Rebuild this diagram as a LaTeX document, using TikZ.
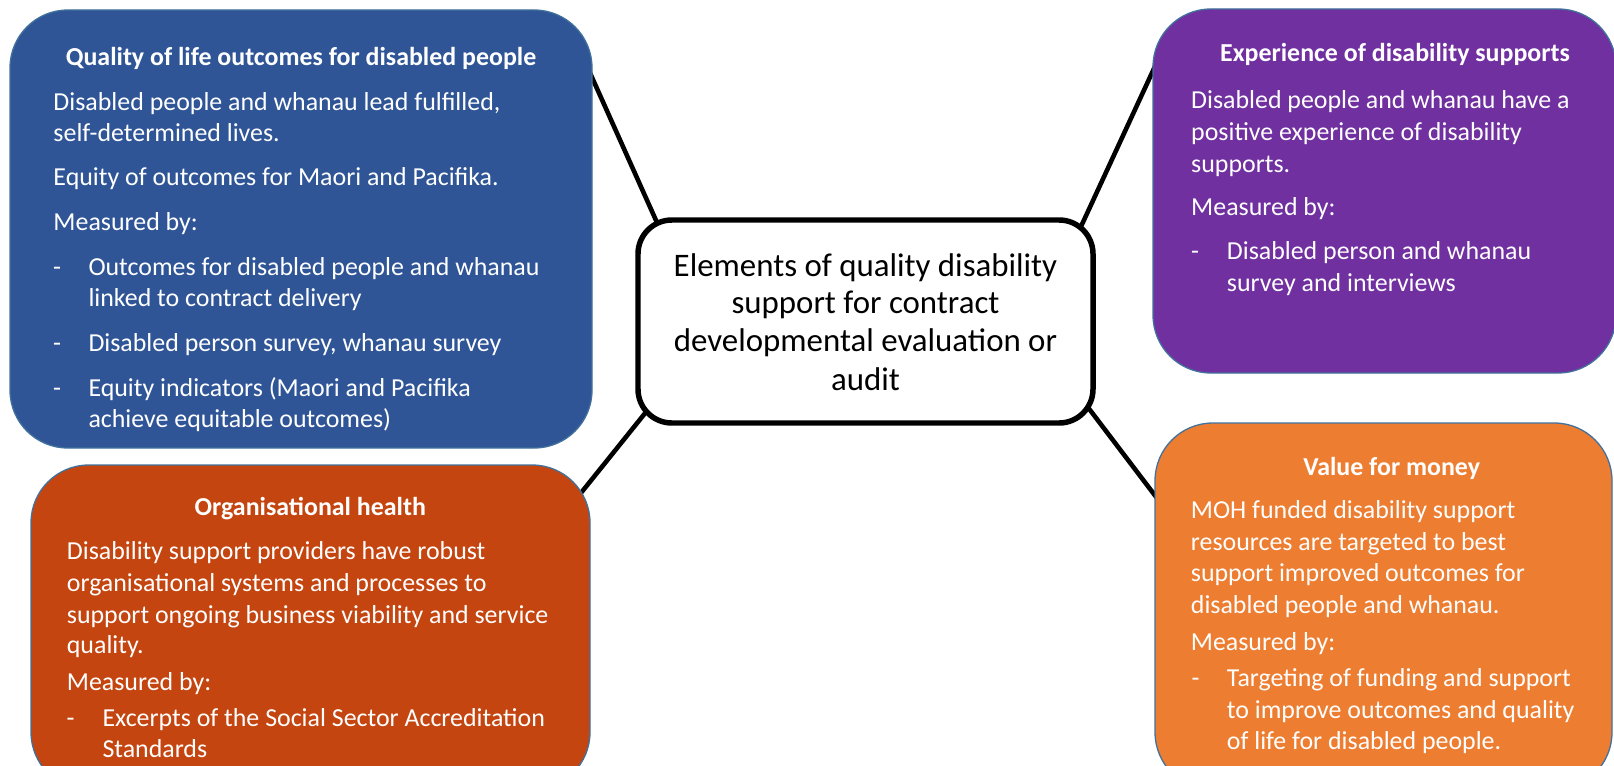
\documentclass[tikz,border=0pt]{standalone}
\usepackage{fontspec}
\setmainfont{Carlito}
\usetikzlibrary{backgrounds,fit}
\definecolor{qolblue}{HTML}{2F5597}
\definecolor{exppurple}{HTML}{7030A0}
\definecolor{orgred}{HTML}{C4450F}
\definecolor{vfmorange}{HTML}{ED7D31}
\definecolor{edgeblue}{HTML}{41719C}
\tikzset{
  card/.style={draw=edgeblue, line width=1.3, rounded corners=58, inner sep=0pt},
  hub/.style={draw=black, fill=white, line width=5.5, rounded corners=34, inner sep=0pt},
  hubtext/.style={text=black, inner sep=0pt, anchor=base, font=\fontsize{33}{38}\selectfont},
  link/.style={draw=black, line width=4.6},
  cardtitle/.style={text=white, inner sep=0pt, anchor=base, font=\fontsize{26}{31}\selectfont\bfseries},
  cardtext/.style={text=white, inner sep=0pt, anchor=base west, font=\fontsize{26}{31}\selectfont},
}
\newcommand\cardline[4]{\node[cardtext] (#1) at (#2,#3) {#4};}
\begin{document}
\begin{tikzpicture}[x=1bp,y=-1bp]
\useasboundingbox (0,0) rectangle (1614,766);
% boxes
\node[card, fill=qolblue, fit={(10,10) (592,448)}] (qol) {};
\node[card, fill=exppurple, fit={(1153,9) (1616,373)}] (exp) {};
\node[card, fill=orgred, fit={(31,465) (590,790)}] (org) {};
\node[card, fill=vfmorange, fit={(1155,423) (1612,790)}] (vfm) {};
\node[hub, fit={(638,220) (1093,423)}] (hub) {};
\node[hubtext] (h1) at (865.5,276) {Elements of quality disability};
\node[hubtext] (h2) at (865.5,313) {support for contract};
\node[hubtext] (h3) at (865.5,351) {developmental evaluation or};
\node[hubtext] (h4) at (865.5,390.5) {audit};
% connector ends
\coordinate (qolend) at (583.5,58.4);
\coordinate (hubnw) at (665.5,241.6);
\coordinate (expend) at (1161.7,51.8);
\coordinate (hubne) at (1073.3,243.2);
\coordinate (orgend) at (570.8,505.6);
\coordinate (hubsw) at (657.5,397.7);
\coordinate (vfmend) at (1165.4,509.2);
\coordinate (hubse) at (1077.9,394.1);
\begin{scope}[on background layer]
  \draw[link] (qolend) -- (hubnw);
  \draw[link] (expend) -- (hubne);
  \draw[link] (orgend) -- (hubsw);
  \draw[link] (vfmend) -- (hubse);
\end{scope}
% Quality of life
\node[cardtitle] (qolt) at (301,66) {Quality of life outcomes for disabled people};
\cardline{q1}{53.3}{110}{Disabled people and whanau lead fulfilled,}
\cardline{q2}{53.3}{141.8}{self-determined lives.}
\cardline{q3}{53.3}{185.5}{Equity of outcomes for Maori and Pacifika.}
\cardline{q4}{53.3}{230}{Measured by:}
\cardline{q5d}{53}{275}{-}
\cardline{q5}{88.3}{275}{Outcomes for disabled people and whanau}
\cardline{q6}{88.3}{306.5}{linked to contract delivery}
\cardline{q7d}{53}{351.5}{-}
\cardline{q7}{88.3}{351.5}{Disabled person survey, whanau survey}
\cardline{q8d}{53}{396.5}{-}
\cardline{q8}{88.3}{396.5}{Equity indicators (Maori and Pacifika}
\cardline{q9}{88.3}{427.5}{achieve equitable outcomes)}
% Experience
\node[cardtitle] (expt) at (1395,61.5) {Experience of disability supports};
\cardline{e1}{1191}{108}{Disabled people and whanau have a}
\cardline{e2}{1191}{140}{positive experience of disability}
\cardline{e3}{1191}{172}{supports.}
\cardline{e4}{1191}{215.5}{Measured by:}
\cardline{e5d}{1191}{259.5}{-}
\cardline{e5}{1226.7}{259.5}{Disabled person and whanau}
\cardline{e6}{1226.7}{291.5}{survey and interviews}
% Organisational health
\node[cardtitle] (orgt) at (310.3,515) {Organisational health};
\cardline{o1}{66.7}{559.5}{Disability support providers have robust}
\cardline{o2}{66.7}{591.3}{organisational systems and processes to}
\cardline{o3}{66.7}{623}{support ongoing business viability and service}
\cardline{o4}{66.7}{653.5}{quality.}
\cardline{o5}{66.7}{690.2}{Measured by:}
\cardline{o6d}{66.5}{726.8}{-}
\cardline{o6}{102.3}{726.8}{Excerpts of the Social Sector Accreditation}
\cardline{o7}{102.3}{757}{Standards}
% Value for money
\node[cardtitle] (vfmt) at (1391.7,475) {Value for money};
\cardline{v1}{1190.7}{518.5}{MOH funded disability support}
\cardline{v2}{1190.7}{550.2}{resources are targeted to best}
\cardline{v3}{1190.7}{581.8}{support improved outcomes for}
\cardline{v4}{1190.7}{613.5}{disabled people and whanau.}
\cardline{v5}{1190.7}{650.2}{Measured by:}
\cardline{v6d}{1191.5}{686.8}{-}
\cardline{v6}{1226.7}{686.8}{Targeting of funding and support}
\cardline{v7}{1226.7}{718.5}{to improve outcomes and quality}
\cardline{v8}{1226.7}{749}{of life for disabled people.}
\end{tikzpicture}
\end{document}
